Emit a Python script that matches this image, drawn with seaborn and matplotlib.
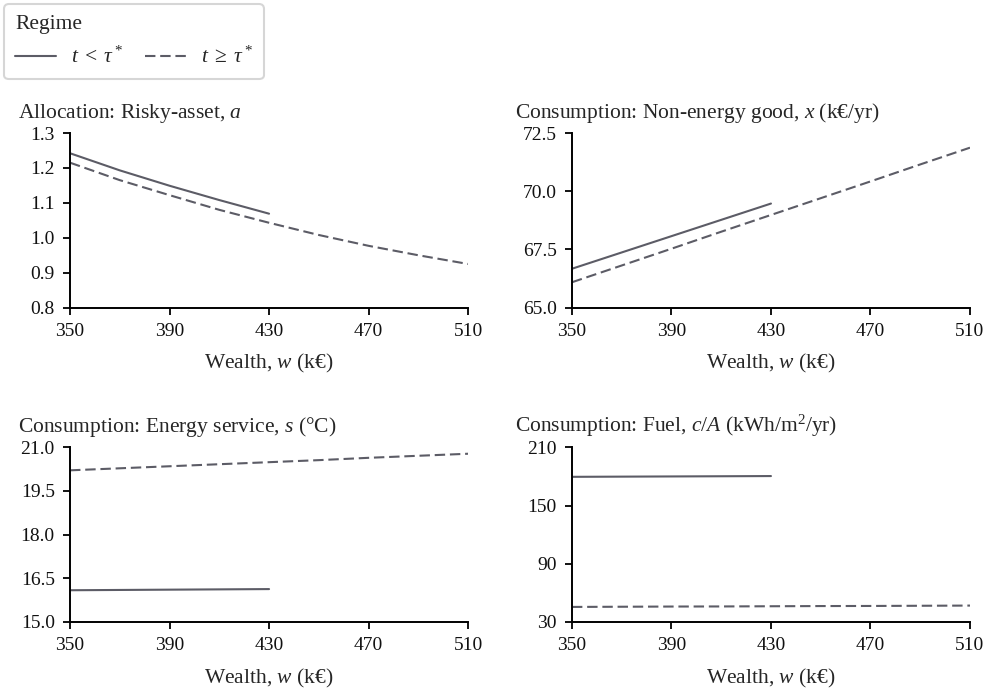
import numpy as np
import pandas as pd
import matplotlib
matplotlib.use("Agg")
import matplotlib.pyplot as plt
import seaborn as sns

# wealth grid (k€)
w_pre = [350, 370, 390, 410, 430]
w_post = [350, 370, 390, 410, 430, 450, 470, 490, 510]

# allocation to risky asset, a
a_pre = [1.242, 1.193, 1.149, 1.108, 1.069]
a_post = [1.215, 1.165, 1.122, 1.080, 1.043, 1.008, 0.977, 0.950, 0.925]

# non-energy good, x (k€/yr)
x_pre = [66.67, 67.37, 68.07, 68.77, 69.47]
x_post = [66.09, 66.81, 67.53, 68.26, 68.98, 69.70, 70.42, 71.15, 71.87]

# energy service, s (°C)
s_pre = [16.09, 16.10, 16.11, 16.12, 16.13]
s_post = [20.21, 20.28, 20.35, 20.42, 20.49, 20.56, 20.64, 20.71, 20.78]

# fuel, c/A (kWh/m2/yr)
c_pre = [179.6, 179.8, 180.0, 180.2, 180.4]
c_post = [45.5, 45.7, 45.9, 46.0, 46.2, 46.4, 46.5, 46.7, 46.9]

regime_labels = ["$t\\;<\\;\\tau^*$", "$t\\;\\geq\\;\\tau^*$"]

titles = ["Allocation: Risky-asset, $a$",
          "Consumption: Non-energy good, $x$ (k€/yr)",
          "Consumption: Energy service, $s$ (°C)",
          "Consumption: Fuel, $c/A$ (kWh/m$^2$/yr)"]
yticks = [[0.8, 0.9, 1.0, 1.1, 1.2, 1.3],
          [65.0, 67.5, 70.0, 72.5],
          [15.0, 16.5, 18.0, 19.5, 21.0],
          [30, 90, 150, 210]]
yfmt = ["{:.1f}", "{:.1f}", "{:.1f}", "{:.0f}"]
xticks = [350, 390, 430, 470, 510]

series = [(a_pre, a_post), (x_pre, x_post), (s_pre, s_post), (c_pre, c_post)]

sns.set_theme(style="ticks")
plt.rcParams["font.family"] = "serif"
plt.rcParams["font.serif"] = ["Liberation Serif", "DejaVu Serif"]
plt.rcParams["mathtext.fontset"] = "custom"
plt.rcParams["mathtext.rm"] = "Liberation Serif"
plt.rcParams["mathtext.it"] = "Liberation Serif:italic"
plt.rcParams["font.size"] = 14

col = "#5c5c66"
fig, axes = plt.subplots(2, 2, figsize=(9.92, 6.92), dpi=100)
plt.subplots_adjust(left=0.0706, right=0.9778, top=0.8078, bottom=0.1012,
                    wspace=0.261, hspace=0.80)

for i, ax in enumerate(axes.flat):
    pre, post = series[i]
    df = pd.DataFrame({
        "wealth": w_pre + w_post,
        "value": pre + post,
        "regime": [regime_labels[0]] * len(w_pre) + [regime_labels[1]] * len(w_post),
    })
    sns.lineplot(data=df, x="wealth", y="value", style="regime",
                 dashes={regime_labels[0]: "", regime_labels[1]: (5, 2.3)},
                 color=col, linewidth=1.5, ax=ax, legend=(i == 0))
    ax.set_xlim(350, 510)
    ax.set_ylim(yticks[i][0], yticks[i][-1])
    ax.set_xticks(xticks)
    ax.set_xticklabels([str(t) for t in xticks], fontsize=14)
    ax.set_yticks(yticks[i])
    ax.set_yticklabels([yfmt[i].format(t) for t in yticks[i]], fontsize=14)
    ax.set_xlabel("Wealth, $w$ (k€)", fontsize=15.5, labelpad=9)
    ax.set_ylabel("")
    off = -0.131 if i % 2 == 0 else -0.143
    ax.set_title(titles[i], loc="left", x=off, fontsize=15.5, pad=11)
    for sp in ["left", "bottom"]:
        ax.spines[sp].set_color("black")
        ax.spines[sp].set_linewidth(1.4)
    sns.despine(ax=ax)
    ax.tick_params(axis="both", direction="out", length=5, width=1.3,
                   color="black", pad=6, labelcolor="#111111")

handles, labels = axes[0, 0].get_legend_handles_labels()
axes[0, 0].get_legend().remove()
leg = fig.legend(handles, labels, loc="upper left", bbox_to_anchor=(0.0, 1.0),
                 ncol=2, title="Regime", alignment="left", fontsize=15.5,
                 title_fontsize=15.5, frameon=True, fancybox=True,
                 edgecolor="#cccccc", columnspacing=1.0, handlelength=1.9,
                 handletextpad=0.7, borderpad=0.5, labelspacing=0.6,
                 borderaxespad=0.2)
leg.get_frame().set_linewidth(1.5)

fig.savefig("out.png", dpi=100)
